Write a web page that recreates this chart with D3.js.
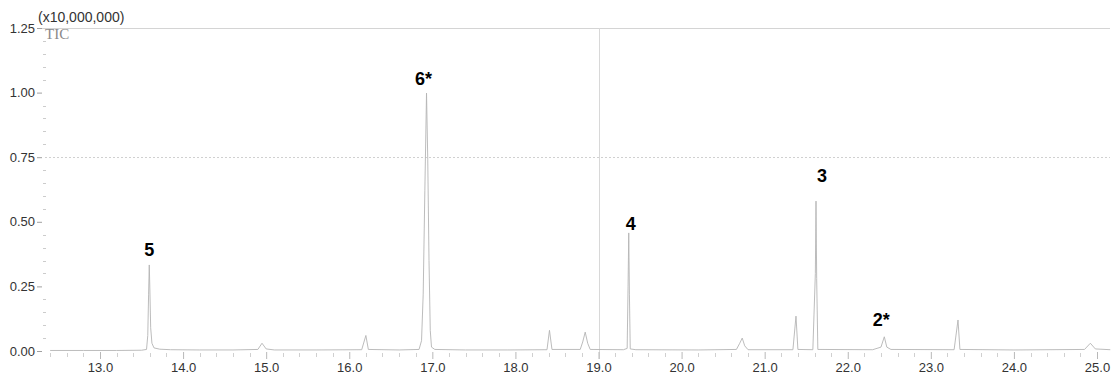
<!DOCTYPE html>
<html>
<head>
<meta charset="utf-8">
<script src="https://cdn.jsdelivr.net/npm/d3@7"></script>
<style>
  html, body { margin: 0; padding: 0; background: #fff; }
  svg { display: block; }
</style>
</head>
<body>
<svg id="chart" width="1116" height="379"></svg>
<script>
// Total ion chromatogram, retention time in minutes, intensity in units of 10,000,000 counts
const retentionTime = [
  12.40, 12.80, 13.20, 13.50, 13.56, 13.575, 13.585, 13.593, 13.600, 13.610, 13.625, 13.65, 13.72, 13.85,
  14.20, 14.60, 14.90, 14.95, 15.00, 15.10, 15.60, 16.15, 16.20, 16.23, 16.60,
  16.84, 16.87, 16.89, 16.91, 16.93, 16.945, 16.96, 16.975, 16.99, 17.03, 17.40, 17.90,
  18.38, 18.41, 18.44, 18.78, 18.81, 18.84, 18.87, 18.90, 19.30,
  19.345, 19.356, 19.364, 19.372, 19.382, 19.45, 20.20, 20.66, 20.70, 20.73, 20.76, 20.80,
  21.34, 21.377, 21.40, 21.58, 21.61, 21.618, 21.626, 21.64, 22.30, 22.40, 22.44, 22.47, 22.52,
  23.28, 23.327, 23.35, 24.00, 24.85, 24.92, 24.98, 25.16
];
const tic = [
  0.002, 0.002, 0.002, 0.003, 0.006, 0.060, 0.220, 0.333, 0.240, 0.090, 0.030, 0.012, 0.007, 0.005,
  0.004, 0.004, 0.006, 0.030, 0.008, 0.004, 0.004, 0.005, 0.060, 0.006, 0.004,
  0.006, 0.040, 0.220, 0.620, 0.998, 0.740, 0.350, 0.080, 0.015, 0.006, 0.004, 0.004,
  0.005, 0.080, 0.006, 0.006, 0.035, 0.073, 0.030, 0.006, 0.005,
  0.010, 0.250, 0.457, 0.220, 0.008, 0.005, 0.004, 0.006, 0.030, 0.050, 0.020, 0.005,
  0.005, 0.135, 0.006, 0.005, 0.300, 0.580, 0.280, 0.006, 0.005, 0.015, 0.055, 0.015, 0.006,
  0.005, 0.120, 0.006, 0.004, 0.006, 0.030, 0.008, 0.005
];

// Peak numbers, placed at each peak apex
const peakLabels = ["5", "6*", "4", "3", "2*"];
const peakTimes = [13.593, 16.93, 19.364, 21.618, 22.44];
const peakHeights = [0.333, 0.998, 0.457, 0.580, 0.055];
// label offsets from apex, in pixels
const labelDx = [0, -3, 2, 6, -3];
const labelDy = [-9, -8, -3, -19, -11];

const xTicks = [13, 14, 15, 16, 17, 18, 19, 20, 21, 22, 23, 24, 25];
const yTicks = [0, 0.25, 0.5, 0.75, 1.0, 1.25];

const svg = d3.select("#chart");
const plotLeft = 45, plotRight = 1110, plotTop = 28, plotBottom = 351;

const x = d3.scaleLinear().domain([13, 25]).range([100, 1097]);
const y = d3.scaleLinear().domain([0, 1.25]).range([plotBottom, plotTop]);

const font = "'Liberation Sans', Arial, sans-serif";

// top frame line at full scale
svg.append("line")
  .attr("x1", 40).attr("x2", plotRight)
  .attr("y1", y(1.25) + 0.5).attr("y2", y(1.25) + 0.5)
  .attr("stroke", "#d4d4d4").attr("stroke-width", 1);

// dotted reference lines
svg.append("line")
  .attr("x1", plotLeft).attr("x2", plotRight)
  .attr("y1", Math.round(y(0.75)) + 0.5).attr("y2", Math.round(y(0.75)) + 0.5)
  .attr("stroke", "#d0d0d0").attr("stroke-width", 1).attr("stroke-dasharray", "2,2");
svg.append("line")
  .attr("x1", Math.round(x(19)) + 0.5).attr("x2", Math.round(x(19)) + 0.5)
  .attr("y1", y(1.25)).attr("y2", plotBottom + 8)
  .attr("stroke", "#d8d8d8").attr("stroke-width", 1);

// y axis: major and minor ticks with labels
const yAxis = d3.axisLeft(y).tickValues(yTicks).tickFormat(d3.format(".2f")).tickSize(5).tickPadding(2);
const gy = svg.append("g").attr("transform", `translate(${plotLeft - 3},0)`).call(yAxis);
gy.select(".domain").remove();
gy.selectAll(".tick line").attr("stroke", "#a0a0a0");
gy.selectAll(".tick text").attr("font-family", font).attr("font-size", 13).attr("fill", "#333");

const yMinor = d3.range(0, 1.2501, 0.05).filter(v => Math.abs(v / 0.25 - Math.round(v / 0.25)) > 1e-6);
svg.append("g").selectAll("line").data(yMinor).join("line")
  .attr("x1", plotLeft - 2).attr("x2", plotLeft + 1)
  .attr("y1", d => Math.round(y(d)) + 0.5).attr("y2", d => Math.round(y(d)) + 0.5)
  .attr("stroke", "#cccccc");

// x axis
const xAxis = d3.axisBottom(x).tickValues(xTicks).tickFormat(d3.format(".1f")).tickSize(7).tickPadding(4);
const gx = svg.append("g").attr("transform", `translate(0,${plotBottom + 1})`).call(xAxis);
gx.select(".domain").remove();
gx.selectAll(".tick line").attr("stroke", "#b8b8b8");
gx.selectAll(".tick text").attr("font-family", font).attr("font-size", 13).attr("fill", "#333");

const xMinor = d3.range(12.4, 25.15, 0.2).filter(v => Math.abs(v - Math.round(v)) > 1e-6);
svg.append("g").selectAll("line").data(xMinor).join("line")
  .attr("x1", d => Math.round(x(d)) + 0.5).attr("x2", d => Math.round(x(d)) + 0.5)
  .attr("y1", plotBottom + 2).attr("y2", plotBottom + 6)
  .attr("stroke", "#d0d0d0");

// scale factor and channel name
svg.append("text")
  .attr("x", 38).attr("y", 22)
  .attr("font-family", font).attr("font-size", 14).attr("fill", "#333")
  .text("(x10,000,000)");
svg.append("text")
  .attr("x", 45).attr("y", 39)
  .attr("font-family", "'Liberation Serif', 'Times New Roman', serif").attr("font-size", 15).attr("fill", "#8a8a8a")
  .text("TIC");

// chromatogram trace
const points = retentionTime.map((t, i) => [t, tic[i]]);
const line = d3.line().x(d => x(d[0])).y(d => y(d[1]));
svg.append("path")
  .datum(points)
  .attr("d", line)
  .attr("fill", "none")
  .attr("stroke", "#b4b4b4")
  .attr("stroke-width", 0.9);

// peak numbers
svg.append("g").selectAll("text").data(peakLabels).join("text")
  .attr("x", (d, i) => x(peakTimes[i]) + labelDx[i])
  .attr("y", (d, i) => y(peakHeights[i]) + labelDy[i])
  .attr("text-anchor", "middle")
  .attr("font-family", font).attr("font-weight", "bold").attr("font-size", 18).attr("fill", "#000")
  .text(d => d);
</script>
</body>
</html>
